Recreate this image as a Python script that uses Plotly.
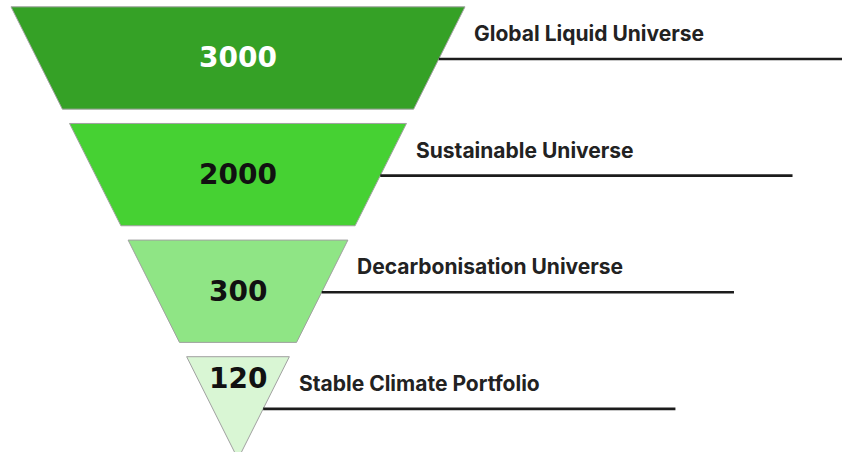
import plotly.graph_objects as go

# Funnel stages, from the widest (top) to the narrowest (bottom)
stages = ["Global Liquid Universe", "Sustainable Universe",
          "Decarbonisation Universe", "Stable Climate Portfolio"]
counts = [3000, 2000, 300, 120]
fill_colors = ["#35a126", "#46d133", "#8fe585", "#d9f6d4"]
count_colors = ["#ffffff", "#111111", "#111111", "#111111"]

# Geometry of the inverted triangle (data units, equal scale on both axes)
BAND_H = 1.0      # height of each band
GAP = 0.14        # vertical gap between bands
SLOPE = 0.502     # half-width per unit of height above the apex
LEADER_LEN = 4.03 # length of the leader line to the right
PX_PER_UNIT = 102.3
W, H = 842, 452
CENTER_PX = 238
APEX_BELOW_PX = 7  # apex sits just under the bottom edge

n = len(stages)
fig = go.Figure()

for i, (name, cnt) in enumerate(zip(stages, counts)):
    y_b = (n - 1 - i) * (BAND_H + GAP)
    y_t = y_b + BAND_H
    hb, ht = SLOPE * y_b, SLOPE * y_t
    # band outline (trapezoid, or triangle for the last band)
    fig.add_trace(go.Scatter(
        x=[-ht, ht, hb, -hb, -ht], y=[y_t, y_t, y_b, y_b, y_t],
        mode="lines", fill="toself", fillcolor=fill_colors[i],
        line=dict(color="#a0a0a0", width=1), hoverinfo="skip",
        showlegend=False))
    # leader line from the right edge
    y_line = y_b + 0.49
    x0 = SLOPE * y_line
    fig.add_trace(go.Scatter(
        x=[x0, x0 + LEADER_LEN], y=[y_line, y_line], mode="lines",
        line=dict(color="#1c1c1c", width=2.6), hoverinfo="skip",
        showlegend=False))
    # stage name above the leader line
    fig.add_annotation(
        x=ht + 0.07, y=y_t - 0.26, text=name, showarrow=False,
        xanchor="left", yanchor="middle",
        font=dict(family="Inter", size=21, color="#222222", weight=700))
    # count inside the band
    y_num = y_b + (0.5 if i < n - 1 else 0.79)
    fig.add_annotation(
        x=0, y=y_num, text=str(cnt), showarrow=False,
        xanchor="center", yanchor="middle",
        font=dict(family="DejaVu Sans", size=28, color=count_colors[i],
                  weight="bold"))

x_lo = -CENTER_PX / PX_PER_UNIT
x_hi = (W - CENTER_PX) / PX_PER_UNIT
y_lo = APEX_BELOW_PX / PX_PER_UNIT
fig.update_xaxes(range=[x_lo, x_hi], visible=False, fixedrange=True)
fig.update_yaxes(range=[y_lo, y_lo + H / PX_PER_UNIT], visible=False,
                 fixedrange=True)
fig.update_layout(
    width=W, height=H, margin=dict(l=0, r=0, t=0, b=0),
    paper_bgcolor="white", plot_bgcolor="white", showlegend=False)

fig.write_html("out.html", config={"displayModeBar": False})
